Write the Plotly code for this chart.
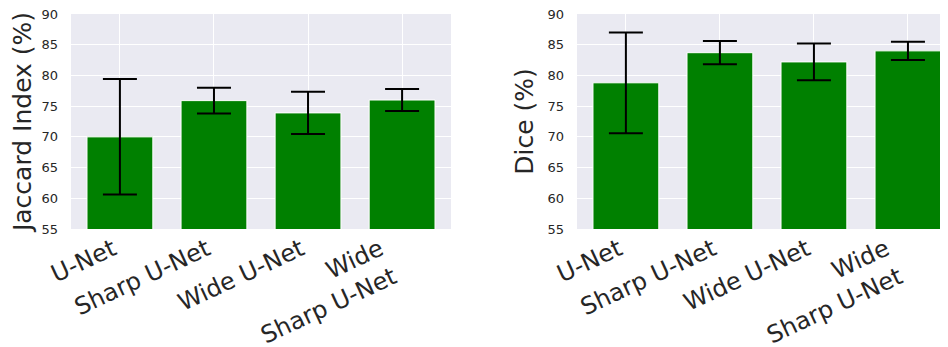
import plotly.graph_objects as go

models = ["U-Net", "Sharp U-Net", "Wide U-Net", "Wide<br>Sharp U-Net"]
jaccard_mean = [70.0, 75.9, 73.9, 76.0]
jaccard_err = [9.4, 2.1, 3.45, 1.8]
dice_mean = [78.8, 83.7, 82.2, 84.0]
dice_err = [8.2, 1.9, 3.0, 1.5]
y_ticks = [55, 60, 65, 70, 75, 80, 85, 90]

# the page body has an 8px margin, so the figure is drawn 8px in from the corner
W, H = 940, 339
OFF = 8
BG = "#EAEAF2"
GREEN = "#008000"
TXT = "#262626"
FONT = "DejaVu Sans"

pos = list(range(len(models)))
single = [0, 1, 2]   # one-line labels
multi = [3]          # two-line label, shifted separately

fig = go.Figure()

def add_bars(y, err, xa, ya, xa_extra):
    fig.add_trace(go.Bar(
        x=pos, y=y, xaxis=xa, yaxis=ya, width=0.7,
        marker=dict(color=GREEN, line=dict(color="white", width=1)),
        error_y=dict(type="data", array=err, visible=True, color="black",
                     thickness=2, width=17),
        hovertext=models,
        showlegend=False,
    ))
    # empty helper trace so the overlaying label axis is drawn
    fig.add_trace(go.Scatter(
        x=[pos[i] for i in multi], y=[None for _ in multi],
        xaxis=xa_extra, yaxis=ya, mode="markers",
        showlegend=False, hoverinfo="skip",
    ))

add_bars(jaccard_mean, jaccard_err, "x", "y", "x3")
add_bars(dice_mean, dice_err, "x2", "y2", "x4")

def xaxis(domain, rng, anchor, idx, shift, overlay=None):
    d = dict(domain=domain, range=rng, anchor=anchor,
             automargin=False,
             tickvals=[pos[i] for i in idx], ticktext=[models[i] for i in idx],
             showgrid=True, gridcolor="white", gridwidth=1,
             tickangle=-25, tickfont=dict(size=24, color=TXT, family=FONT),
             showline=False, zeroline=False, ticks="", ticklabelstandoff=1,
             ticklabelshift=shift)
    if overlay:
        d["overlaying"] = overlay
    return d

def yaxis(title, anchor):
    return dict(domain=[0, 1], range=[55, 90], anchor=anchor, automargin=False,
                tickvals=y_ticks, showgrid=True, gridcolor="white", gridwidth=1,
                tickfont=dict(size=13, color=TXT, family=FONT),
                ticklabeloverflow="allow",
                title=dict(text=title, font=dict(size=25, color=TXT, family=FONT), standoff=6),
                zeroline=False, showline=False, ticks="", ticklabelstandoff=12)

dom1 = [(71 - OFF) / W, (451 - OFF) / W]
dom2 = [(577 - OFF) / W, 1.0]
rng1 = [-0.52, 3.52]
rng2 = [-0.52, 3.426]

fig.update_layout(
    width=W, height=H,
    margin=dict(l=0, r=0, t=14 - OFF, b=118),
    paper_bgcolor="white", plot_bgcolor=BG,
    font=dict(family=FONT, color=TXT),
    xaxis=xaxis(dom1, rng1, "y", single, -7),
    yaxis=yaxis("Jaccard Index (%)", "x"),
    xaxis3=xaxis(dom1, rng1, "y", multi, -22, overlay="x"),
    xaxis2=xaxis(dom2, rng2, "y2", single, -7),
    yaxis2=yaxis("Dice (%)", "x2"),
    xaxis4=xaxis(dom2, rng2, "y2", multi, -22, overlay="x2"),
    bargap=0.3,
)

fig.write_html("out.html")
